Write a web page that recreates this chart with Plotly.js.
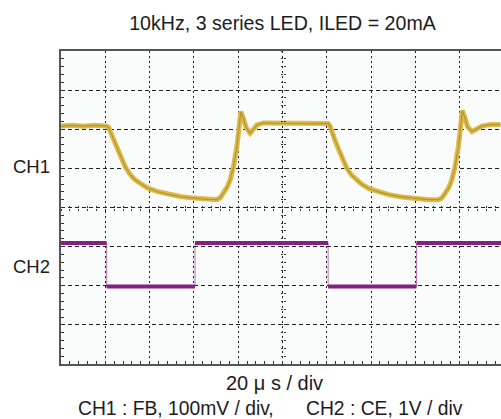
<!DOCTYPE html>
<html>
<head>
<meta charset="utf-8">
<script src="https://cdn.plot.ly/plotly-3.0.1.min.js"></script>
<style>
html, body { margin:0; padding:0; width:501px; height:419px; overflow:hidden; background:#fff; }
#chart { width:506px; height:419px; }
</style>
</head>
<body>
<div id="chart"></div>
<script>
// Time in microseconds (20 us / div), vertical position in screen divisions (0..8)
const ch1Time = [0, 5, 10, 15, 20.6, 21.6, 22.4, 23.8, 25.2, 27, 28.9, 31, 33, 35.7, 39, 43.3, 48, 53.8, 60, 65.9, 70.4, 72, 73.4, 75, 76.4, 77.9, 79.4, 80.2, 81.2, 82.2, 83.6, 85.4, 87, 88.5, 91.3, 100, 110, 120.6,
  121.6, 122.4, 123.8, 125.2, 127, 128.9, 131, 133, 135.7, 139, 143.3, 148, 153.8, 160, 165.9, 170.4, 172, 173.4, 175, 176.4, 177.9, 179.4, 180.2, 181.2, 182.2, 183.6, 185.6, 187.5, 190, 194, 198.4];
const ch1Level = [6.08, 6.1, 6.08, 6.1, 6.08, 6.04, 5.92, 5.74, 5.56, 5.3, 5.05, 4.86, 4.73, 4.62, 4.5, 4.41, 4.34, 4.28, 4.24, 4.21, 4.2, 4.26, 4.37, 4.52, 4.71, 5.05, 5.56, 5.9, 6.45, 6.3, 6.04, 5.9, 6.0, 6.11, 6.16, 6.15, 6.14, 6.15,
  6.06, 5.9, 5.7, 5.5, 5.26, 5.02, 4.84, 4.72, 4.6, 4.48, 4.4, 4.33, 4.27, 4.23, 4.2, 4.2, 4.25, 4.36, 4.5, 4.7, 5.04, 5.55, 5.9, 6.48, 6.32, 6.06, 5.94, 6.0, 6.08, 6.12, 6.12];
const ch2Time  = [0, 20.6, 20.6, 60.5, 60.5, 120.6, 120.6, 160.5, 160.5, 200];
const ch2Level = [3.09, 3.09, 1.98, 1.98, 3.09, 3.09, 1.98, 1.98, 3.09, 3.09];

const titleText = "10kHz, 3 series LED, ILED = 20mA";
const xLabel = "20 \u03bc s / div";
const ch1Note = "CH1 : FB, 100mV / div,";
const ch2Note = "CH2 : CE, 1V / div";
const chNames = ["CH1", "CH2"];
const chNameLevels = [5.04, 2.5];

// thick horizontal segments for CH2 (vertical edges stay thin)
const ch2SegX = [], ch2SegY = [];
for (let i = 0; i < ch2Time.length; i++) {
  if (i > 0 && ch2Level[i] !== ch2Level[i-1]) { ch2SegX.push(null); ch2SegY.push(null); }
  ch2SegX.push(ch2Time[i]); ch2SegY.push(ch2Level[i]);
}

const gold = '#dcba4a', goldDark = '#b8952a', purple = '#86207f';
const traces = [
  {x: ch1Time, y: ch1Level, mode: 'lines', line: {color: gold, width: 5}, hoverinfo: 'skip'},
  {x: ch1Time, y: ch1Level, mode: 'lines', line: {color: goldDark, width: 1.2}, hoverinfo: 'skip'},
  {x: ch2Time, y: ch2Level, mode: 'lines', line: {color: purple, width: 1}, opacity: 0.6, hoverinfo: 'skip'},
  {x: ch2SegX, y: ch2SegY, mode: 'lines', connectgaps: false, line: {color: purple, width: 4}, hoverinfo: 'skip'},
  // empty traces that only register the centre-graticule axes
  {x: [], y: [], xaxis: 'x2', yaxis: 'y2', mode: 'lines', hoverinfo: 'skip'},
  {x: [], y: [], xaxis: 'x3', yaxis: 'y3', mode: 'lines', hoverinfo: 'skip'}
];

const font = {family: '"Liberation Sans", Arial, sans-serif', color: '#1c1c1c'};
const axisCommon = {
  showgrid: true, gridcolor: '#222', gridwidth: 1,
  showline: true, linecolor: '#555', linewidth: 2, mirror: true,
  ticks: 'inside', ticklen: 3, tickcolor: '#333', showticklabels: false,
  zeroline: false, fixedrange: true
};
function centreAxis(range, dtick, minorDtick, side, over, pos) {
  return {overlaying: over, anchor: 'free', position: pos, range: range, tick0: 0, dtick: dtick,
    showgrid: false, showline: false, zeroline: false, showticklabels: false, fixedrange: true,
    ticks: side, ticklen: 2, tickcolor: '#333',
    minor: {dtick: minorDtick, ticks: side, ticklen: 2, tickcolor: '#333', showgrid: false}};
}
const layout = {
  width: 506, height: 419,
  margin: {l: 61, r: 2, t: 51, b: 55},
  paper_bgcolor: '#fff', plot_bgcolor: '#fafbfb',
  showlegend: false,
  font: font,
  title: {text: titleText, font: Object.assign({size: 19.6}, font), x: 0.5, xref: 'paper', xanchor: 'center', y: 0.945, yref: 'container', yanchor: 'middle'},
  xaxis: Object.assign({}, axisCommon, {range: [0, 200], tick0: 0, dtick: 20, griddash: '2px,3px',
    minor: {dtick: 4, ticks: 'inside', ticklen: 3, tickcolor: '#333', showgrid: false}}),
  yaxis: Object.assign({}, axisCommon, {range: [0, 8], tick0: 0, dtick: 1, griddash: '4px,3px',
    minor: {dtick: 0.2, ticks: 'inside', ticklen: 3, tickcolor: '#333', showgrid: false}}),
  xaxis2: centreAxis([0, 200], 20, 4, 'inside', 'x', 0.5),
  yaxis2: centreAxis([0, 8], 1, 0.2, 'inside', 'y', 0.5),
  xaxis3: centreAxis([0, 200], 20, 4, 'outside', 'x', 0.5),
  yaxis3: centreAxis([0, 8], 1, 0.2, 'outside', 'y', 0.5),
  annotations: [
    {text: chNames[0], xref: 'paper', yref: 'y', x: -0.0655, y: chNameLevels[0], xanchor: 'center', yanchor: 'middle', showarrow: false, font: Object.assign({size: 18.5}, font)},
    {text: chNames[1], xref: 'paper', yref: 'y', x: -0.0655, y: chNameLevels[1], xanchor: 'center', yanchor: 'middle', showarrow: false, font: Object.assign({size: 18.5}, font)},
    {text: xLabel, xref: 'paper', yref: 'paper', x: 0.483, y: -0.0607, xanchor: 'center', yanchor: 'middle', showarrow: false, font: Object.assign({size: 20}, font)},
    {text: ch1Note, xref: 'paper', yref: 'paper', x: 0.034, y: -0.1406, xanchor: 'left', yanchor: 'middle', showarrow: false, font: Object.assign({size: 19.3}, font)},
    {text: ch2Note, xref: 'paper', yref: 'paper', x: 0.549, y: -0.1406, xanchor: 'left', yanchor: 'middle', showarrow: false, font: Object.assign({size: 19.3}, font)}
  ]
};
Plotly.newPlot('chart', traces, layout, {staticPlot: true, displayModeBar: false});
</script>
</body>
</html>
